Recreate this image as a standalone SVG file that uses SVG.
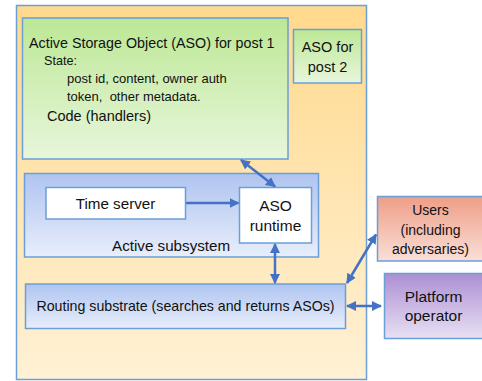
<svg xmlns="http://www.w3.org/2000/svg" width="482" height="381" viewBox="0 0 482 381">
<defs>
<linearGradient id="gOrange" x1="0" y1="0" x2="0" y2="1"><stop offset="0" stop-color="#FFD98C"/><stop offset="1" stop-color="#FFF1D6"/></linearGradient>
<linearGradient id="gGreen" x1="0" y1="0" x2="0" y2="1"><stop offset="0" stop-color="#BCE895"/><stop offset="1" stop-color="#E8F6DC"/></linearGradient>
<linearGradient id="gBlue" x1="0" y1="0" x2="0" y2="1"><stop offset="0" stop-color="#AFC4F0"/><stop offset="1" stop-color="#E8EEFB"/></linearGradient>
<linearGradient id="gRed" x1="0" y1="0" x2="0" y2="1"><stop offset="0" stop-color="#EE9E88"/><stop offset="1" stop-color="#FADFD6"/></linearGradient>
<linearGradient id="gPurple" x1="0" y1="0" x2="0" y2="1"><stop offset="0" stop-color="#AC8FD3"/><stop offset="1" stop-color="#E8E0F3"/></linearGradient>
<marker id="ah" viewBox="0 0 10 10" refX="9" refY="5" markerWidth="4" markerHeight="4" orient="auto-start-reverse" markerUnits="strokeWidth">
<path d="M0,0 L10,5 L0,10 z" fill="#4472C4"/>
</marker>
</defs>
<style>
.box{stroke:#6A9FD8;stroke-width:1.5}
.t{font-family:"Liberation Sans",Arial,sans-serif;fill:#111}
.c{text-anchor:middle}
.pre{white-space:pre}
.conn{stroke:#4472C4;stroke-width:2.5;fill:none}
</style>
<rect width="482" height="381" fill="#FFFFFF"/>
<g id="platform-boundary">
<rect class="box" x="16.5" y="5.5" width="350" height="374" fill="url(#gOrange)" stroke-width="2"/>
</g>
<g id="aso-post1">
<rect class="box" x="22.5" y="18" width="265.5" height="141" fill="url(#gGreen)"/>
<text class="t" x="29" y="48" font-size="14.3">Active Storage Object (ASO) for post 1</text>
<text class="t" x="44" y="65" font-size="12.6">State:</text>
<text class="t" x="67" y="83" font-size="13">post id, content, owner auth</text>
<text class="t pre" x="67" y="101" font-size="13" xml:space="preserve">token,  other metadata.</text>
<text class="t" x="47" y="121" font-size="14.5">Code (handlers)</text>
</g>
<g id="aso-post2">
<rect class="box" x="293.5" y="29.5" width="68" height="53.5" fill="url(#gGreen)"/>
<text class="t c" x="327.5" y="52" font-size="14.5">ASO for</text>
<text class="t c" x="327.5" y="72" font-size="14.5">post 2</text>
</g>
<g id="active-subsystem">
<rect class="box" x="24.5" y="173.5" width="294" height="83.5" fill="url(#gBlue)"/>
<text class="t" x="112" y="251" font-size="15.2">Active subsystem</text>
</g>
<g id="time-server">
<rect class="box" x="46" y="187.5" width="139.5" height="31.5" fill="#FFFFFF"/>
<text class="t c" x="115.5" y="208.5" font-size="15.2">Time server</text>
</g>
<g id="aso-runtime">
<rect class="box" x="239.5" y="187.5" width="72" height="55.5" fill="#FFFFFF"/>
<text class="t c" x="275.5" y="210.5" font-size="15.5">ASO</text>
<text class="t c" x="275.5" y="230.5" font-size="15.5">runtime</text>
</g>
<g id="routing-substrate">
<rect class="box" x="25.5" y="284" width="320" height="44.5" fill="url(#gBlue)"/>
<text class="t c" x="185.5" y="311" font-size="14.2">Routing substrate (searches and returns ASOs)</text>
</g>
<g id="users">
<rect class="box" x="377.5" y="196.5" width="106" height="64.5" fill="url(#gRed)"/>
<text class="t c" x="430.5" y="215" font-size="14">Users</text>
<text class="t c" x="430.5" y="235" font-size="14">(including</text>
<text class="t c" x="430.5" y="254" font-size="14">adversaries)</text>
</g>
<g id="platform-operator">
<rect class="box" x="384.5" y="273.5" width="99" height="65" fill="url(#gPurple)"/>
<text class="t c" x="433.5" y="302" font-size="15.5">Platform</text>
<text class="t c" x="433.5" y="321" font-size="15.5">operator</text>
</g>
<g id="connectors">
<line class="conn" x1="241" y1="160" x2="275" y2="186.5" marker-start="url(#ah)" marker-end="url(#ah)"/>
<line class="conn" x1="186" y1="203" x2="238.5" y2="203" marker-end="url(#ah)"/>
<line class="conn" x1="275" y1="244" x2="275" y2="283" marker-start="url(#ah)" marker-end="url(#ah)"/>
<line class="conn" x1="376" y1="234.5" x2="347" y2="283" marker-start="url(#ah)" marker-end="url(#ah)"/>
<line class="conn" x1="347" y1="306" x2="381" y2="306" marker-start="url(#ah)" marker-end="url(#ah)"/>
</g>
</svg>
